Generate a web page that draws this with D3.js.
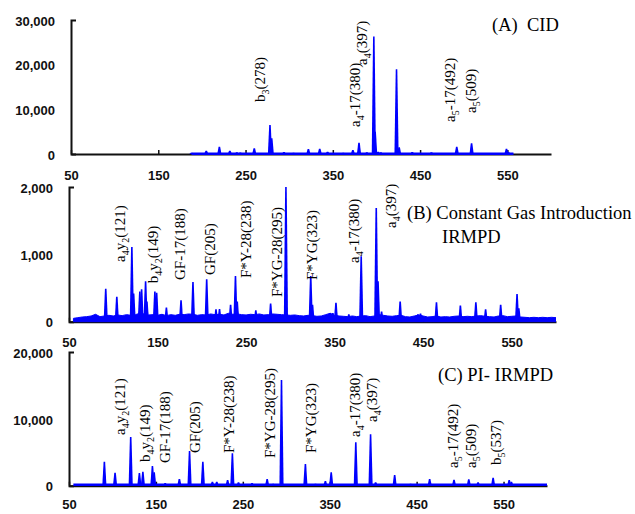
<!DOCTYPE html>
<html>
<head>
<meta charset="utf-8">
<script src="https://cdn.jsdelivr.net/npm/d3@7"></script>
<style>
body { margin: 0; background: #fff; }
svg { display: block; }
.tick text { font-family: "Liberation Sans", Arial, sans-serif; font-weight: bold; font-size: 13px; fill: #111; }
.lbl, .ttl { font-family: "Liberation Serif", "Times New Roman", serif; fill: #000; }
.lbl { font-size: 15px; }
.ttl { font-size: 18.5px; }
</style>
</head>
<body>
<div id="chart"></div>
<script>
// ---- data ----
var xTicks = [50, 150, 250, 350, 450, 550];

// (A) CID
var aYTicks = [0, 10000, 20000, 30000];
var aPeakMz  = [188, 205, 220, 232, 240, 244, 260, 278, 280, 294, 300, 305, 322, 335, 344, 362, 373, 380, 389, 397, 398.5, 402, 405, 423, 426, 441, 463, 473, 492, 509, 549, 551];
var aPeakInt = [300, 750, 1600, 700, 400, 350, 1300, 6500, 3500, 450, 250, 300, 1100, 1200, 500, 300, 900, 2500, 400, 26300, 5000, 500, 400, 19000, 1500, 450, 400, 250, 1600, 2400, 1200, 500];
var aLabelText = ['b_3(278)', 'a_4-17(380)', 'a_4(397)', 'a_5-17(492)', 'a_5(509)'];
var aLabelMz   = [266, 375, 383, 484, 508];
var aLabelInt  = [11640, 6045, 19930, 7165, 9180];
var aRange = [188, 557];

// (B) constant gas introduction IRMPD
var bYTicks = [0, 1000, 2000];
var bPeakMz  = [80, 91.5, 104, 121, 123, 130, 132, 136.5, 138, 147, 149, 160, 176.5, 190, 205.5, 216, 220, 232.5, 238, 240, 261, 277.7, 295, 323, 325, 345, 348, 351.5, 366, 380, 397, 399, 403, 424, 444, 447, 465, 492, 509.5, 520.5, 537.5, 556, 558];
var bPeakInt = [100, 490, 370, 1110, 420, 450, 480, 600, 300, 450, 430, 210, 320, 590, 630, 185, 190, 250, 680, 300, 170, 270, 2000, 680, 250, 130, 130, 280, 110, 970, 1690, 600, 150, 300, 110, 120, 290, 240, 290, 185, 250, 410, 200];
// noisy baseline, read every 5 m/z from 55 to 600
var bBaseMz = [55, 60, 65, 70, 75, 80, 85, 90, 95, 100, 105, 110, 115, 120, 125, 130, 135, 140, 145, 150, 155, 160, 165, 170, 175, 180, 185, 190, 195, 200, 205, 210, 215, 220, 225, 230, 235, 240, 245, 250, 255, 260, 265, 270, 275, 280, 285, 290, 295, 300, 305, 310, 315, 320, 325, 330, 335, 340, 345, 350, 355, 360, 365, 370, 375, 380, 385, 390, 395, 400, 405, 410, 415, 420, 425, 430, 435, 440, 445, 450, 455, 460, 465, 470, 475, 480, 485, 490, 495, 500, 505, 510, 515, 520, 525, 530, 535, 540, 545, 550, 555, 560, 565, 570, 575, 580, 585, 590, 595, 600];
var bBaseInt = [50, 60, 70, 75, 85, 110, 75, 85, 95, 85, 100, 90, 105, 95, 105, 125, 115, 100, 105, 95, 110, 90, 105, 95, 110, 105, 115, 110, 95, 105, 100, 115, 105, 110, 100, 125, 110, 115, 105, 100, 110, 105, 115, 100, 105, 115, 110, 105, 100, 95, 100, 90, 85, 95, 90, 80, 85, 105, 125, 95, 85, 80, 75, 85, 75, 85, 90, 75, 85, 105, 95, 85, 80, 90, 95, 75, 70, 85, 100, 85, 70, 75, 85, 70, 75, 70, 80, 85, 75, 80, 75, 85, 90, 80, 75, 70, 85, 90, 75, 80, 85, 70, 65, 60, 65, 60, 65, 60, 65, 60];
var bLabelText = ['a_4y_2(121)', 'b_4y_2(149)', 'GF-17(188)', 'GF(205)', 'F*Y-28(238)', 'F*YG-28(295)', 'F*YG(323)', 'a_4-17(380)', 'a_4(397)'];
var bLabelMz   = [107.6, 144.9, 175.4, 209.2, 249.9, 284.9, 324.4, 371.8, 413.6];
var bLabelInt  = [887, 572, 619, 694, 649, 367, 619, 872, 1391];

// (C) PI-IRMPD
var cYTicks = [0, 10000, 20000];
var cPeakMz  = [90.7, 103, 121, 131, 135, 146, 148, 160.7, 177, 188.7, 204, 215, 220, 232.5, 238, 245, 260.6, 278, 285, 294.5, 322, 333.6, 345, 351.7, 380, 397, 402.8, 424.7, 443, 465, 493, 510, 520.7, 538, 556.5, 559];
var cPeakInt = [3600, 1950, 7300, 1900, 2100, 2950, 2000, 400, 1000, 5200, 3600, 600, 600, 850, 4850, 500, 400, 1000, 300, 15800, 3250, 300, 700, 2000, 6500, 7700, 500, 1600, 300, 1000, 900, 950, 500, 1200, 850, 600];
var cLabelText = ['a_4y_2(121)', 'b_4y_2(149)', 'GF-17(188)', 'GF(205)', 'F*Y-28(238)', 'F*YG-28(295)', 'F*YG(323)', 'a_4-17(380)', 'a_4(397)', 'a_5-17(492)', 'a_5(509)', 'b_5(537)'];
var cLabelMz   = [108.8, 137.6, 160.7, 195.3, 234.5, 281.7, 329, 378.6, 398.2, 491.5, 512.3, 541.1];
var cLabelInt  = [7585, 3545, 3396, 4892, 4892, 4144, 4892, 7285, 9530, 2648, 2648, 3097];
var cRange = [55, 600];

// ---- layout ----
var W = 635, H = 514;
var blue = '#0000ff';

var svg = d3.select('#chart').append('svg')
    .attr('width', W)
    .attr('height', H);

var panels = [
    { left: 71, right: 551, top: 20, bottom: 154, yMax: 30000, yTicks: aYTicks, pad: 17,
      peakMz: aPeakMz, peakInt: aPeakInt, labels: [aLabelText, aLabelMz, aLabelInt],
      flat: aRange, flatInt: 60, title: [['(A)\u2002CID', 492, 31]] },
    { left: 69, right: 556, top: 187, bottom: 321.7, yMax: 2000, yTicks: bYTicks, pad: 16,
      peakMz: bPeakMz, peakInt: bPeakInt, labels: [bLabelText, bLabelMz, bLabelInt],
      baseMz: bBaseMz, baseInt: bBaseInt,
      title: [['(B) Constant Gas Introduction', 407, 219], ['IRMPD', 442, 243]] },
    { left: 69, right: 547, top: 352, bottom: 485.7, yMax: 20000, yTicks: cYTicks, pad: 14,
      peakMz: cPeakMz, peakInt: cPeakInt, labels: [cLabelText, cLabelMz, cLabelInt],
      flat: cRange, flatInt: 150, title: [['(C) PI- IRMPD', 438, 381]] }
];

panels.forEach(function (p, pi) {
    var x = d3.scaleLinear().domain([50, 600]).range([p.left, p.right]);
    var y = d3.scaleLinear().domain([0, p.yMax]).range([p.bottom, p.top]);
    var g = svg.append('g');

    // axes
    var xAxis = g.append('g')
        .attr('transform', 'translate(0,' + p.bottom + ')')
        .call(d3.axisBottom(x).tickValues(xTicks).tickFormat(d3.format('d'))
            .tickSizeInner(-4).tickSizeOuter(0).tickPadding(p.pad));
    xAxis.select('.domain').attr('stroke', '#111').attr('stroke-width', 2);
    xAxis.selectAll('.tick line').attr('stroke', '#111').attr('stroke-width', 1.5);

    var yAxis = g.append('g')
        .attr('transform', 'translate(' + p.left + ',0)')
        .call(d3.axisLeft(y).tickValues(p.yTicks).tickFormat(d3.format(','))
            .tickSizeInner(0).tickSizeOuter(-5).tickPadding(16));
    yAxis.select('.domain').attr('stroke', '#111').attr('stroke-width', 2);
    yAxis.selectAll('.tick text').attr('dy', '0.4em');

    // spectrum
    var clipId = 'clip' + pi;
    g.append('clipPath').attr('id', clipId).append('rect')
        .attr('x', p.left).attr('y', p.top - 1)
        .attr('width', p.right - p.left).attr('height', p.bottom - p.top + 3);
    var spec = g.append('g').attr('clip-path', 'url(#' + clipId + ')');

    if (p.baseMz) {
        var base = p.baseMz.map(function (m, i) { return [m, p.baseInt[i]]; });
        spec.append('path')
            .datum(base)
            .attr('fill', blue)
            .attr('stroke', blue)
            .attr('stroke-width', 1)
            .attr('d', d3.area().x(function (d) { return x(d[0]); })
                .y0(y(0)).y1(function (d) { return y(d[1]); }));
    }
    if (p.flat) {
        spec.append('line')
            .attr('x1', x(p.flat[0])).attr('x2', x(p.flat[1]))
            .attr('y1', y(p.flatInt)).attr('y2', y(p.flatInt))
            .attr('stroke', blue).attr('stroke-width', 2.5);
    }

    var peakArea = d3.area()
        .x(function (d) { return x(d[0]); })
        .y0(y(0))
        .y1(function (d) { return y(d[1]); });

    spec.selectAll('path.peak')
        .data(p.peakMz.map(function (m, i) { return [m, p.peakInt[i]]; }))
        .enter().append('path')
        .attr('class', 'peak')
        .attr('fill', blue)
        .attr('d', function (d) {
            return peakArea([[d[0] - 2.4, 0], [d[0] - 0.9, d[1]], [d[0] + 0.9, d[1]], [d[0] + 2.4, 0]]);
        });

    // rotated peak labels
    var lt = p.labels[0], lm = p.labels[1], li = p.labels[2];
    lt.forEach(function (txt, i) {
        var t = g.append('text')
            .attr('class', 'lbl')
            .attr('transform', 'translate(' + (x(lm[i]) + 5) + ',' + y(li[i]) + ') rotate(-90)');
        var sub = false;
        txt.split(/(_.)/).forEach(function (part) {
            if (!part) return;
            if (part[0] === '_') {
                t.append('tspan').attr('font-size', 10).attr('dy', 4).text(part[1]);
                sub = true;
            } else {
                t.append('tspan').attr('dy', sub ? -4 : 0).text(part);
                sub = false;
            }
        });
    });

    // panel title
    p.title.forEach(function (tt) {
        g.append('text').attr('class', 'ttl')
            .attr('x', tt[1]).attr('y', tt[2]).text(tt[0]);
    });
});
</script>
</body>
</html>
